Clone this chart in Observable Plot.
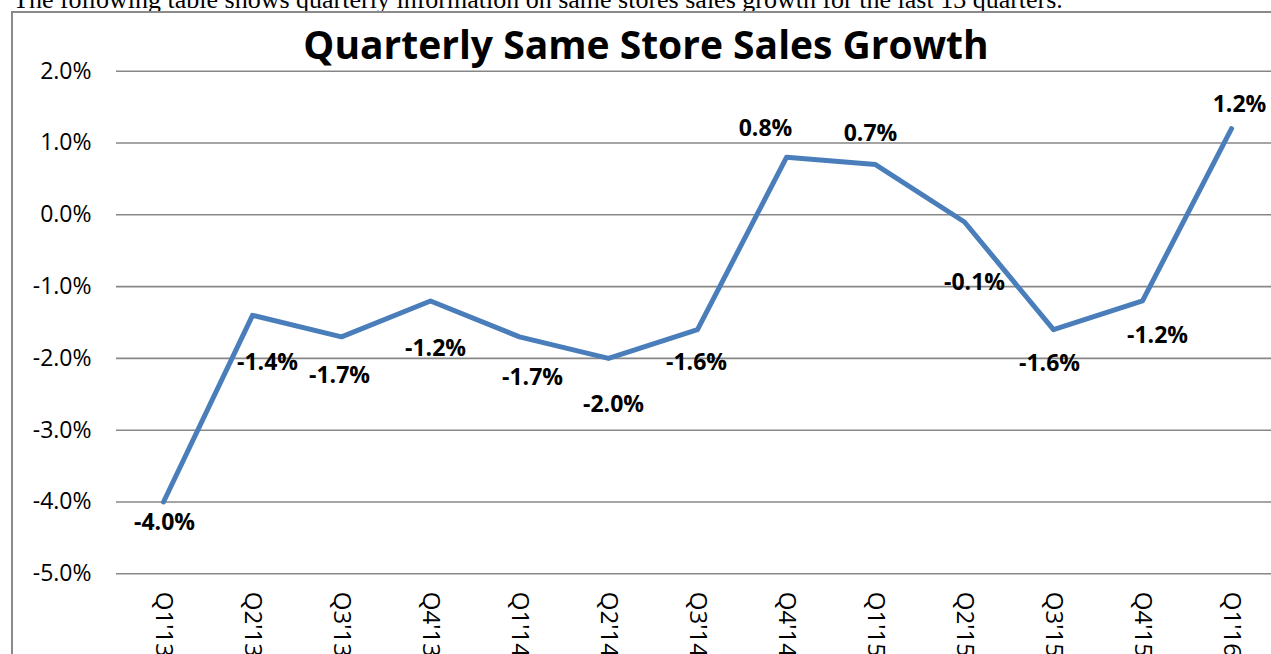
<!DOCTYPE html>
<html>
<head>
<meta charset="utf-8">
<script src="https://cdn.jsdelivr.net/npm/d3@7"></script>
<script src="https://cdn.jsdelivr.net/npm/@observablehq/plot@0.6"></script>
<style>
  html, body { margin: 0; padding: 0; background: #fff; overflow: hidden; }
  body { position: relative; width: 1271px; height: 654px; }
  #caption {
    position: absolute; left: 13px; top: -13px; white-space: nowrap;
    font-family: "Liberation Serif", "Times New Roman", serif; font-size: 26px; line-height: 26px; color: #000;
  }
  #frame {
    position: absolute; left: 11px; top: 11px; width: 1400px; height: 800px;
    border: 2px solid #8a8a8a; box-sizing: border-box;
  }
  #chart { position: absolute; left: 0; top: 0; }
</style>
</head>
<body>
<div id="caption">The following table shows quarterly information on same stores sales growth for the last 13 quarters.</div>
<div id="frame"></div>
<div id="chart"></div>
<script>
const title = "Quarterly Same Store Sales Growth";
const quarters = ["Q1'13","Q2'13","Q3'13","Q4'13","Q1'14","Q2'14","Q3'14","Q4'14","Q1'15","Q2'15","Q3'15","Q4'15","Q1'16"];
const growth = [-4.0, -1.4, -1.7, -1.2, -1.7, -2.0, -1.6, 0.8, 0.7, -0.1, -1.6, -1.2, 1.2];
const yTicks = [2, 1, 0, -1, -2, -3, -4, -5];

const data = quarters.map((q, i) => ({quarter: q, value: growth[i]}));
const fmt = v => v.toFixed(1) + "%";
const font = "'Open Sans', Lato, sans-serif";

// label nudges (Excel-style label placement around the line)
const nudge = {
  "Q1'13": [1, 21], "Q2'13": [15, 47], "Q3'13": [-2, 39], "Q4'13": [5, 48],
  "Q1'14": [13, 41], "Q2'14": [5, 46], "Q3'14": [-1, 33], "Q4'14": [-21, -29],
  "Q1'15": [-5, -31], "Q2'15": [10, 61], "Q3'15": [-4, 34], "Q4'15": [15, 35],
  "Q1'16": [8, -24]
};
const labelMarks = quarters.map(q => Plot.text(data.filter(d => d.quarter === q), {
  x: "quarter", y: "value", text: d => fmt(d.value),
  dx: nudge[q][0], dy: nudge[q][1],
  fontSize: 23, fontWeight: "bold", fill: "#000", fontFamily: font
}));

const chart = Plot.plot({
  width: 1271,
  height: 654,
  marginLeft: 116,
  marginRight: 0,
  marginTop: 70.7,
  marginBottom: 80.7,
  style: {fontFamily: font, background: "transparent", overflow: "visible"},
  x: {type: "point", domain: quarters, range: [161, 1233], padding: 0, axis: null},
  y: {domain: [-5, 2], axis: null},
  marks: [
    Plot.ruleY(yTicks, {stroke: "#878787", strokeWidth: 1.6}),
    Plot.text(yTicks, {y: d => d, text: fmt, frameAnchor: "left", dx: -25, textAnchor: "end",
      fontSize: 23, fill: "#000", fontFamily: font}),
    Plot.text(quarters, {x: d => d, text: d => d, frameAnchor: "bottom", dy: 18,
      rotate: 90, textAnchor: "start", lineAnchor: "middle", fontSize: 24, fill: "#000", fontFamily: font}),
    Plot.line(data, {x: "quarter", y: "value", stroke: "#4a7ebb", strokeWidth: 5,
      strokeLinejoin: "round", strokeLinecap: "round"}),
    ...labelMarks,
    Plot.text([title], {text: d => d, frameAnchor: "top", dx: -48, dy: -12, lineAnchor: "bottom",
      fontSize: 39, fontWeight: "bold", fill: "#000", fontFamily: font})
  ]
});
document.getElementById("chart").appendChild(chart);
</script>
</body>
</html>
